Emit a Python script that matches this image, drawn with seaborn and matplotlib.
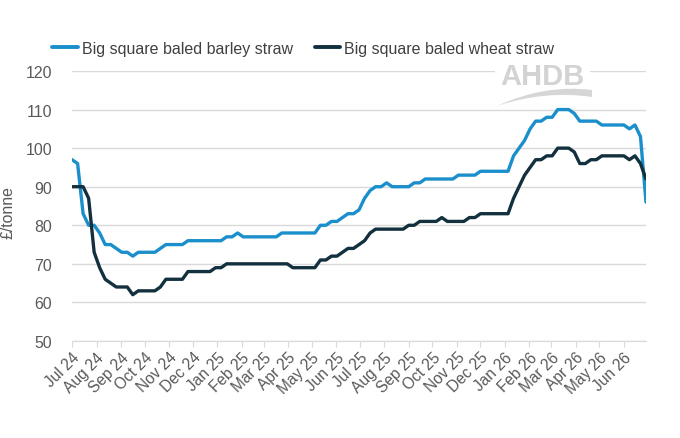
import pandas as pd
import seaborn as sns
import matplotlib
matplotlib.use("Agg")
import matplotlib.pyplot as plt
import matplotlib.dates as mdates
from matplotlib.path import Path
from matplotlib.patches import PathPatch

# weekly prices, w/c 1 Jul 2024 onwards (GBP/tonne)
weeks = pd.date_range("2024-07-01", periods=105, freq="7D")

barley_straw = [97, 96, 83, 80, 80, 78, 75, 75, 74, 73,
                73, 72, 73, 73, 73, 73, 74, 75, 75, 75,
                75, 76, 76, 76, 76, 76, 76, 76, 77, 77,
                78, 77, 77, 77, 77, 77, 77, 77, 78, 78,
                78, 78, 78, 78, 78, 80, 80, 81, 81, 82,
                83, 83, 84, 87, 89, 90, 90, 91, 90, 90,
                90, 90, 91, 91, 92, 92, 92, 92, 92, 92,
                93, 93, 93, 93, 94, 94, 94, 94, 94, 94,
                98, 100, 102, 105, 107, 107, 108, 108, 110, 110,
                110, 109, 107, 107, 107, 107, 106, 106, 106, 106,
                106, 105, 106, 103, 86]

wheat_straw = [90, 90, 90, 87, 73, 69, 66, 65, 64, 64,
               64, 62, 63, 63, 63, 63, 64, 66, 66, 66,
               66, 68, 68, 68, 68, 68, 69, 69, 70, 70,
               70, 70, 70, 70, 70, 70, 70, 70, 70, 70,
               69, 69, 69, 69, 69, 71, 71, 72, 72, 73,
               74, 74, 75, 76, 78, 79, 79, 79, 79, 79,
               79, 80, 80, 81, 81, 81, 81, 82, 81, 81,
               81, 81, 82, 82, 83, 83, 83, 83, 83, 83,
               87, 90, 93, 95, 97, 97, 98, 98, 100, 100,
               100, 99, 96, 96, 97, 97, 98, 98, 98, 98,
               98, 97, 98, 96, 92]

series_names = ["Big square baled barley straw", "Big square baled wheat straw"]
colours = ["#1B8FCB", "#13303E"]

df = pd.concat([
    pd.DataFrame({"week": weeks, "price": barley_straw, "series": series_names[0]}),
    pd.DataFrame({"week": weeks, "price": wheat_straw, "series": series_names[1]}),
])

sns.set_style("white")
plt.rcParams["font.family"] = ["Liberation Sans", "DejaVu Sans"]

fig = plt.figure(figsize=(6.8, 4.39), dpi=100)
ax = fig.add_axes([0.106, 0.221, 0.844, 0.615])

sns.lineplot(data=df, x="week", y="price", hue="series", palette=colours,
             linewidth=2.4, ax=ax, legend=False)

ax.set_ylim(50, 120)
ax.set_yticks(range(50, 121, 10))
ax.set_xlim(weeks[0], weeks[-1])
ax.grid(axis="y", color="#D9D9D9", linewidth=1)
ax.set_axisbelow(True)
for s in ["top", "right", "left"]:
    ax.spines[s].set_visible(False)
ax.spines["bottom"].set_color("#D9D9D9")

ax.xaxis.set_major_locator(mdates.MonthLocator())
ax.xaxis.set_major_formatter(mdates.DateFormatter("%b %y"))
ax.tick_params(axis="x", bottom=True, length=4, color="#D9D9D9",
               labelsize=11.2, labelcolor="#595959", pad=2)
ax.tick_params(axis="y", left=False, labelsize=11.4, labelcolor="#595959", pad=11)
for lab in ax.get_xticklabels():
    lab.set_rotation(45)
    lab.set_ha("right")
    lab.set_rotation_mode("anchor")

ax.set_xlabel("")
ax.set_ylabel("£/tonne", fontsize=11.4, color="#595959")
ax.yaxis.set_label_coords(-0.099, 0.48)

# legend across the top
handles = [plt.Line2D([], [], color=c, linewidth=2.8) for c in colours]
fig.legend(handles, series_names, loc="center left", bbox_to_anchor=(0.0765, 0.888),
           ncol=2, frameon=False, fontsize=11.5, handlelength=1.6,
           handletextpad=0.25, columnspacing=1.4, borderpad=0, borderaxespad=0,
           labelcolor="#404040")

# AHDB watermark with its swoosh
ax.text(0.82, 0.95, "AHDB", transform=ax.transAxes, ha="center", va="baseline",
        fontsize=21, color="#D3D3D3", fontweight="bold",
        bbox=dict(facecolor="white", edgecolor="none", pad=4))
W, H = 680.0, 439.0
pts = [(497, 107), (545, 91), (592, 98), (592, 91), (545, 85), (497, 107)]
pts = [(x / W, 1 - y / H) for x, y in pts]
swoosh = Path(pts, [Path.MOVETO, Path.CURVE3, Path.CURVE3,
                    Path.LINETO, Path.CURVE3, Path.CURVE3])
fig.add_artist(PathPatch(swoosh, transform=fig.transFigure,
                         facecolor="#D6D6D6", edgecolor="none"))

fig.savefig("out.png", dpi=100)
